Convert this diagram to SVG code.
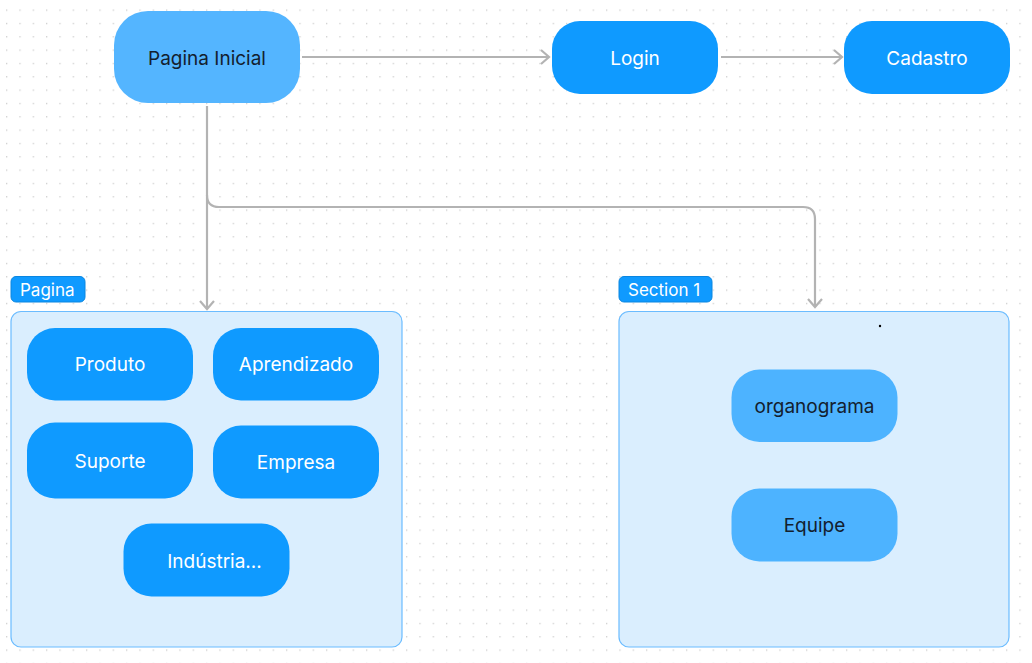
<svg xmlns="http://www.w3.org/2000/svg" width="1032" height="663" viewBox="0 0 1032 663">
<defs>
<pattern id="dots" x="6" y="9.5" width="13.333" height="13.333" patternUnits="userSpaceOnUse">
<rect x="0" y="0" width="1.3" height="1.3" fill="#cccccc"/>
</pattern>
<marker id="arr" markerWidth="12" markerHeight="16" refX="10" refY="8" orient="auto" markerUnits="userSpaceOnUse">
<path d="M2,1 L10,8 L2,15" fill="none" stroke="#b3b3b3" stroke-width="2.2"/>
</marker>
<style>
.dark{fill:#0f9aff}
.light{fill:#4db3ff}
.tw{font-family:Inter,"Liberation Sans",sans-serif;font-size:19px;fill:#ffffff;text-anchor:middle}
.td{font-family:Inter,"Liberation Sans",sans-serif;font-size:19px;fill:#13202e;text-anchor:middle}
.sec{fill:#daeefe;stroke:#6bbcff;stroke-width:1.2}
.badge{fill:#0f9aff;stroke:#0a86e0;stroke-width:1}
.bt{font-family:Inter,"Liberation Sans",sans-serif;font-size:17px;fill:#ffffff}
.conn{fill:none;stroke:#b3b3b3;stroke-width:2.2}
</style>
</defs>
<rect width="1032" height="663" fill="#ffffff"/>
<rect width="1032" height="663" fill="url(#dots)"/>

<g id="section-pagina">
<rect class="sec" x="11" y="311.5" width="391" height="335.5" rx="10"/>
<rect class="badge" x="11" y="276.5" width="74" height="25.5" rx="5"/>
<text class="bt" x="20" y="296">Pagina</text>
</g>
<g id="section-1">
<rect class="sec" x="619" y="311.5" width="390" height="335.5" rx="10"/>
<rect class="badge" x="619" y="276.5" width="93" height="25.5" rx="5"/>
<text class="bt" x="628" y="296">Section 1</text>
<circle cx="880" cy="326" r="1.2" fill="#000000"/>
</g>

<g id="connectors">
<path class="conn" d="M302,57 H549" marker-end="url(#arr)"/>
<path class="conn" d="M721,57 H842" marker-end="url(#arr)"/>
<path class="conn" d="M207,106 V309" marker-end="url(#arr)"/>
<path class="conn" d="M207,195 Q207,207 219,207 H803 Q815,207 815,219 V307" marker-end="url(#arr)"/>
</g>

<g id="pagina-inicial">
<rect x="114" y="11" width="186" height="92" rx="34" style="fill:#54b5ff"/>
<text class="td" x="207" y="64.5">Pagina Inicial</text>
</g>
<g id="login">
<rect class="dark" x="552" y="21" width="166" height="73" rx="28"/>
<text class="tw" x="635" y="64.5">Login</text>
</g>
<g id="cadastro">
<rect class="dark" x="844" y="21" width="166" height="73" rx="28"/>
<text class="tw" x="927" y="64.5">Cadastro</text>
</g>

<g id="produto">
<rect class="dark" x="27" y="328" width="166" height="72.5" rx="28"/>
<text class="tw" x="110" y="371">Produto</text>
</g>
<g id="aprendizado">
<rect class="dark" x="213" y="328" width="166" height="72.5" rx="28"/>
<text class="tw" x="296" y="371">Aprendizado</text>
</g>
<g id="suporte">
<rect class="dark" x="27" y="422.5" width="166" height="76" rx="28"/>
<text class="tw" x="110" y="467.5">Suporte</text>
</g>
<g id="empresa">
<rect class="dark" x="213" y="425.5" width="166" height="73" rx="28"/>
<text class="tw" x="296" y="469">Empresa</text>
</g>
<g id="industria">
<rect class="dark" x="123.5" y="523.5" width="166" height="73" rx="28"/>
<text class="tw" x="214.5" y="567.5">Indústria...</text>
</g>

<g id="organograma">
<rect class="light" x="731.5" y="369.5" width="166" height="72.5" rx="28"/>
<text class="td" x="814.5" y="413">organograma</text>
</g>
<g id="equipe">
<rect class="light" x="731.5" y="488.5" width="166" height="73" rx="28"/>
<text class="td" x="814.5" y="532">Equipe</text>
</g>
</svg>
